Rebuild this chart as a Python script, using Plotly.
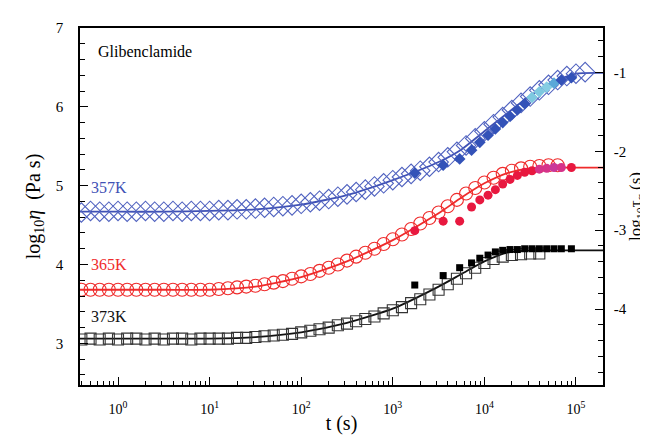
import plotly.graph_objects as go

# ---------------- data (log10 t in s, log10 eta in Pa s) ----------------
logt_open = [-0.4, -0.3, -0.2, -0.1, 0.0, 0.1, 0.2, 0.3, 0.4, 0.5, 0.6, 0.7, 0.8, 0.9,
             1.0, 1.1, 1.2, 1.3, 1.4, 1.5, 1.6, 1.7, 1.8, 1.9, 2.0, 2.1, 2.2, 2.3, 2.4,
             2.5, 2.6, 2.7, 2.8, 2.9, 3.0, 3.1, 3.2, 3.3, 3.4, 3.5, 3.6, 3.7, 3.8, 3.9,
             4.0, 4.1, 4.2, 4.3, 4.4, 4.5, 4.6, 4.7, 4.8, 4.9, 5.0, 5.1]

eta_357_open = [4.66, 4.68, 4.67, 4.67, 4.68, 4.67, 4.67, 4.68, 4.67, 4.67, 4.68, 4.67, 4.68, 4.68,
                4.68, 4.69, 4.69, 4.70, 4.70, 4.71, 4.72, 4.73, 4.74, 4.75, 4.77, 4.79, 4.81, 4.83, 4.86,
                4.89, 4.92, 4.95, 4.99, 5.03, 5.07, 5.11, 5.15, 5.19, 5.24, 5.30, 5.36, 5.43, 5.51, 5.60,
                5.69, 5.78, 5.87, 5.96, 6.05, 6.13, 6.21, 6.28, 6.34, 6.39, 6.42, 6.44]

eta_365_open = [3.68, 3.68, 3.68, 3.68, 3.68, 3.68, 3.68, 3.68, 3.68, 3.68, 3.68, 3.68, 3.68, 3.68,
                3.68, 3.69, 3.70, 3.71, 3.72, 3.73, 3.75, 3.77, 3.79, 3.82, 3.85, 3.88, 3.92, 3.96, 4.00,
                4.05, 4.10, 4.15, 4.20, 4.26, 4.32, 4.38, 4.45, 4.52, 4.59, 4.66, 4.74, 4.82, 4.90, 4.97,
                5.04, 5.10, 5.15, 5.19, 5.22, 5.24, 5.25, 5.26, 5.26]

eta_373_open = [3.05, 3.06, 3.05, 3.06, 3.05, 3.06, 3.06, 3.05, 3.06, 3.05, 3.06, 3.06, 3.05, 3.06,
                3.06, 3.06, 3.06, 3.07, 3.07, 3.08, 3.09, 3.10, 3.11, 3.12, 3.14, 3.16, 3.18, 3.20, 3.23,
                3.25, 3.28, 3.31, 3.34, 3.38, 3.42, 3.46, 3.51, 3.56, 3.62, 3.68, 3.75, 3.82, 3.89, 3.96,
                4.02, 4.07, 4.10, 4.12, 4.13, 4.14, 4.14]

# fit curves
logt_fit = [-0.42, 0.0, 0.5, 1.0, 1.5, 2.0, 2.5, 3.0, 3.5, 3.75, 4.0, 4.25, 4.5, 4.75, 5.0, 5.3]
eta_357_fit = [4.67, 4.67, 4.67, 4.68, 4.70, 4.76, 4.88, 5.07, 5.30, 5.46, 5.69, 5.92, 6.14, 6.31, 6.42, 6.43]
eta_365_fit = [3.68, 3.68, 3.68, 3.68, 3.72, 3.84, 4.04, 4.31, 4.65, 4.85, 5.03, 5.16, 5.22, 5.23, 5.23, 5.23]
eta_373_fit = [3.06, 3.06, 3.06, 3.06, 3.08, 3.14, 3.26, 3.44, 3.72, 3.88, 4.04, 4.15, 4.18, 4.18, 4.18, 4.18]

# filled (dielectric) points
logt_fill = [3.24, 3.55, 3.73, 3.86, 3.95, 4.04, 4.12, 4.20, 4.28, 4.36, 4.44, 4.52, 4.60, 4.68, 4.76, 4.84, 4.95]
eta_357_fill = [5.16, 5.26, 5.34, 5.45, 5.55, 5.64, 5.72, 5.80, 5.88, 5.96, 6.04, 6.12, 6.19, 6.25, 6.30, 6.34, 6.37]
eta_365_fill = [4.43, 4.55, 4.55, 4.73, 4.82, 4.88, 4.95, 5.02, 5.08, 5.13, 5.17, 5.19, 5.21, 5.22, 5.23, 5.23, 5.23]
eta_373_fill = [3.74, 3.86, 3.96, 4.02, 4.08, 4.12, 4.16, 4.18, 4.19, 4.19, 4.20, 4.20, 4.20, 4.20, 4.20, 4.20, 4.20]

labels = ["357K", "365K", "373K"]
x_ticks = [1, 10, 100, 1000, 10000, 100000]
x_ticktext = ["10<sup>0</sup>", "10<sup>1</sup>", "10<sup>2</sup>", "10<sup>3</sup>", "10<sup>4</sup>", "10<sup>5</sup>"]

BLUE = "#3f51b5"
BLUE_D = "#5163c0"
RED = "#ef2b2b"
BLACK = "#111111"
FONT = "Liberation Serif"

def tt(lst):
    return [10 ** v for v in lst]

fig = go.Figure()

# fit lines
for ys, col in [(eta_357_fit, BLUE), (eta_365_fit, RED), (eta_373_fit, BLACK)]:
    fig.add_trace(go.Scatter(x=tt(logt_fit), y=ys, mode="lines",
                             line=dict(color=col, width=1.8, shape="spline", smoothing=0.6),
                             showlegend=False, hoverinfo="skip"))

# open markers
fig.add_trace(go.Scatter(x=tt(logt_open), y=eta_357_open, mode="markers",
                         marker=dict(symbol="diamond-open", size=15, color=BLUE_D, line=dict(width=1.1)),
                         showlegend=False))
fig.add_trace(go.Scatter(x=tt(logt_open[:len(eta_365_open)]), y=eta_365_open, mode="markers",
                         marker=dict(symbol="circle-open", size=13, color=RED, line=dict(width=1.1)),
                         showlegend=False))
fig.add_trace(go.Scatter(x=tt(logt_open[:len(eta_373_open)]), y=eta_373_open, mode="markers",
                         marker=dict(symbol="square-open", size=11, color="#333333", line=dict(width=1.1)),
                         showlegend=False))

# filled markers
blue_fill_colors = ["#3352b8"] * 11 + ["#7ec9e0", "#7ec9e0", "#86cde3", "#5aa8d8", "#3352b8", "#3352b8"]
red_fill_colors = ["#e8183f"] * 12 + ["#d6338a", "#d6338a", "#c9379a", "#d6338a", "#e8183f"]
fig.add_trace(go.Scatter(x=tt(logt_fill), y=eta_357_fill, mode="markers",
                         marker=dict(symbol="diamond", size=9, color=blue_fill_colors),
                         showlegend=False))
fig.add_trace(go.Scatter(x=tt(logt_fill), y=eta_365_fill, mode="markers",
                         marker=dict(symbol="circle", size=9, color=red_fill_colors),
                         showlegend=False))
fig.add_trace(go.Scatter(x=tt(logt_fill), y=eta_373_fill, mode="markers",
                         marker=dict(symbol="square", size=7, color="#000000"),
                         showlegend=False))

# dummy trace for right axis
fig.add_trace(go.Scatter(x=[1], y=[-2], yaxis="y2", mode="markers",
                         marker=dict(opacity=0), showlegend=False, hoverinfo="skip"))

minor_x = [m * 10 ** d for d in range(-1, 6) for m in range(2, 10)]

fig.update_layout(
    width=648, height=435,
    margin=dict(l=72, r=53, t=17, b=49),
    paper_bgcolor="white", plot_bgcolor="white",
    font=dict(family=FONT, size=15, color="black"),
    xaxis=dict(type="log", range=[-0.415, 5.295],
               tickvals=x_ticks, ticktext=x_ticktext,
               ticks="inside", ticklen=8, tickwidth=1.2, tickcolor="black",
               minor=dict(tickvals=minor_x, ticks="inside", ticklen=4, tickwidth=1, tickcolor="black", showgrid=False),
               showline=True, linecolor="black", linewidth=1.5, mirror=True,
               showgrid=False, zeroline=False,
               tickfont=dict(size=14), ticklabelstandoff=10,
               title=dict(text="t (s)", font=dict(size=20), standoff=0)),
    yaxis=dict(range=[2.472, 7.0], tickvals=[3, 4, 5, 6, 7],
               ticks="inside", ticklen=8, tickwidth=1.2, tickcolor="black",
               minor=dict(dtick=0.2, tick0=3, ticks="inside", ticklen=5, tickwidth=1, tickcolor="black", showgrid=False),
               showline=True, linecolor="black", linewidth=1.5,
               showgrid=False, zeroline=False,
               tickfont=dict(size=15), ticklabelstandoff=12,
               title=dict(text="log<sub>10</sub><i>η</i>  (Pa s)", font=dict(size=20), standoff=10)),
    yaxis2=dict(overlaying="y", side="right", range=[-4.964, -0.436],
                tickvals=[-1, -2, -3, -4], ticktext=["-1", "-2", "-3", "-4"],
                ticks="inside", ticklen=8, tickwidth=1.2, tickcolor="black",
                minor=dict(dtick=0.2, tick0=-1, ticks="inside", ticklen=5, tickwidth=1, tickcolor="black", showgrid=False),
                showline=True, linecolor="black", linewidth=1.5,
                showgrid=False, zeroline=False,
                tickfont=dict(size=15), ticklabelstandoff=6,
                title=dict(text="log<sub>10</sub>τ<sub>α</sub> (s)", font=dict(size=17), standoff=0)),
)

fig.add_annotation(text="Glibenclamide", xref="paper", yref="paper", x=0.03, y=0.935,
                   xanchor="left", yanchor="middle", showarrow=False, font=dict(size=16, color="black"))
for lab, yv, col in [(labels[0], 4.98, BLUE), (labels[1], 4.0, RED), (labels[2], 3.34, BLACK)]:
    fig.add_annotation(text=lab, xref="paper", yref="y", x=0.018, y=yv,
                       xanchor="left", yanchor="middle", showarrow=False, font=dict(size=16, color=col))

fig.write_html("out.html")
